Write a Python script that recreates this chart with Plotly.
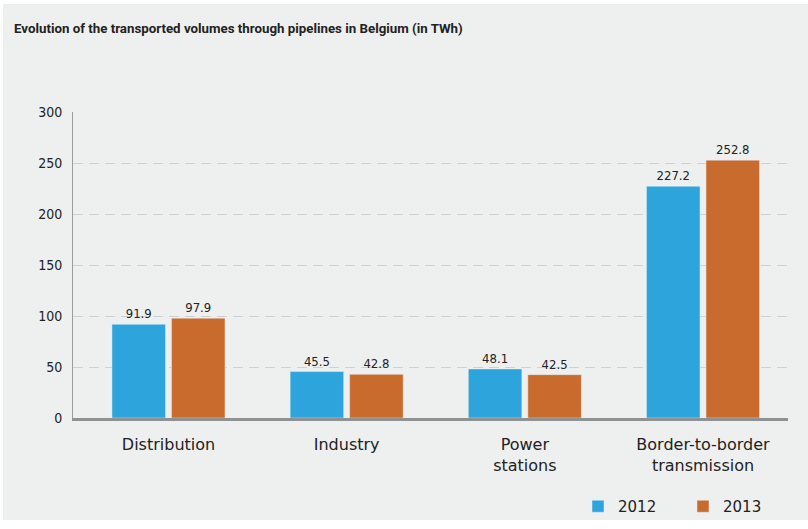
import plotly.graph_objects as go

categories = ["Distribution", "Industry", "Power<br>stations", "Border-to-border<br>transmission"]
values_2012 = [91.9, 45.5, 48.1, 227.2]
values_2013 = [97.9, 42.8, 42.5, 252.8]
y_ticks = [0, 50, 100, 150, 200, 250, 300]

COND = "DejaVu Sans Condensed, sans-serif"
TITLE_FONT = "Roboto, DejaVu Sans Condensed, sans-serif"
WIDE = "DejaVu Sans, sans-serif"
BLUE = "#2ea4dc"
ORANGE = "#c96b2c"
BG = "#eef0ef"

# plot area in pixels: x 73..788, y 112..418
def px_x(p):
    return (p - 73) / 715

def px_y(p):
    return (418 - p) / 306

fig = go.Figure()
for name, vals, col in [("2012", values_2012, BLUE), ("2013", values_2013, ORANGE)]:
    fig.add_trace(go.Bar(x=categories, y=vals, name=name, marker_color=col,
                         text=[f"{v:.1f}" for v in vals], textposition="outside",
                         textfont=dict(family=COND, size=13, color="#222"), cliponaxis=False))

# grey panel with thin white border around it
fig.add_shape(type="rect", xref="paper", yref="paper", layer="below",
              x0=px_x(3), x1=px_x(810), y0=px_y(520), y1=px_y(4),
              fillcolor=BG, line_width=0)

fig.update_layout(
    width=808, height=529,
    margin=dict(l=73, r=20, t=112, b=111, autoexpand=False),
    paper_bgcolor="white", plot_bgcolor=BG,
    font=dict(family=COND, color="#222"),
    barmode="group", bargap=0.332, bargroupgap=0.1,
    title=dict(text="<b>Evolution of the transported volumes through pipelines in Belgium (in TWh)</b>",
               x=14 / 808, xanchor="left", y=1 - 28 / 529, yanchor="middle",
               font=dict(family=TITLE_FONT, size=13.3, color="#222")),
    legend=dict(orientation="h", x=px_x(578), xanchor="left", y=px_y(490), yanchor="top",
                font=dict(family=WIDE, size=15, color="#222"), itemwidth=30,
                entrywidth=60, entrywidthmode="pixels", bgcolor="rgba(0,0,0,0)"),
)
fig.update_yaxes(range=[0, 300], tickvals=y_ticks, showgrid=True, gridcolor="#cdd1d1",
                 griddash="10px,6px", gridwidth=1, zeroline=False, showline=True,
                 linecolor="#9a9e9e", linewidth=1, ticks="",
                 tickfont=dict(family=COND, size=14, color="#222"), ticklabelstandoff=7)
fig.update_xaxes(range=[-0.536, 3.477], showline=True, linecolor="#8e9292", linewidth=3,
                 ticks="", tickfont=dict(family=WIDE, size=16, color="#222"),
                 ticklabelstandoff=10)

fig.write_html("out.html", config={"displayModeBar": False},
               post_script="document.body.style.margin='0';")
